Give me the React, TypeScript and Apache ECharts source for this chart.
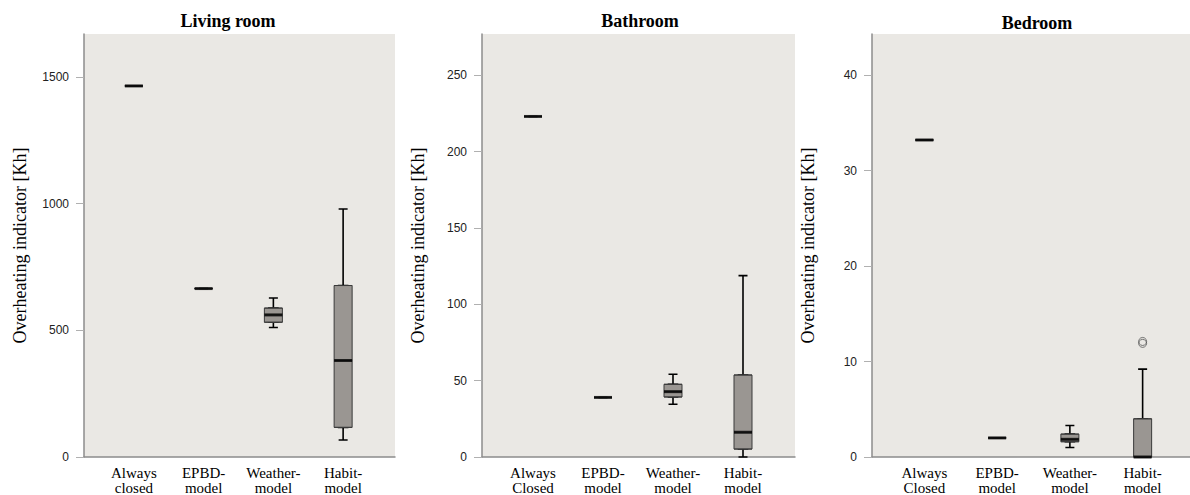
import React, { useEffect, useRef } from 'react';
import * as echarts from 'echarts';

const panelTitles = ['Living room', 'Bathroom', 'Bedroom'];
const livingCategories = ['Always\nclosed', 'EPBD-\nmodel', 'Weather-\nmodel', 'Habit-\nmodel'];
const bathroomCategories = ['Always\nClosed', 'EPBD-\nmodel', 'Weather-\nmodel', 'Habit-\nmodel'];
const bedroomCategories = ['Always\nClosed', 'EPBD-\nmodel', 'Weather-\nmodel', 'Habit-\nmodel'];

// [min, Q1, median, Q3, max]
const livingBoxes = [
  [1465, 1465, 1465, 1465, 1465],
  [665, 665, 665, 665, 665],
  [511, 532, 561, 588, 628],
  [67, 117, 381, 677, 979],
];
const bathroomBoxes = [
  [223, 223, 223, 223, 223],
  [39, 39, 39, 39, 39],
  [34.5, 39.3, 42.8, 47.6, 54.2],
  [0, 5.2, 16.2, 53.7, 118.8],
];
const bedroomBoxes = [
  [33.2, 33.2, 33.2, 33.2, 33.2],
  [2.0, 2.0, 2.0, 2.0, 2.0],
  [1.0, 1.6, 1.85, 2.4, 3.3],
  [0, 0, 0, 4.0, 9.2],
];
const livingOutliers: number[][] = [];
const bathroomOutliers: number[][] = [];
const bedroomOutliers = [
  [3, 11.9],
  [3, 12.1],
];

const livingTicks = [0, 500, 1000, 1500];
const bathroomTicks = [0, 50, 100, 150, 200, 250];
const bedroomTicks = [0, 10, 20, 30, 40];
const yMaxes = [1670, 277, 44.3];
const yAxisName = 'Overheating indicator [Kh]';

const panelCategories = [livingCategories, bathroomCategories, bedroomCategories];
const panelBoxes = [livingBoxes, bathroomBoxes, bedroomBoxes];
const panelOutliers = [livingOutliers, bathroomOutliers, bedroomOutliers];
const panelTicks = [livingTicks, bathroomTicks, bedroomTicks];

const layouts = [
  { outerLeft: 84, outerWidth: 311, innerLeft: 99, innerWidth: 279, titleX: 228, titleY: 21 },
  { outerLeft: 482, outerWidth: 313, innerLeft: 498, innerWidth: 280, titleX: 640, titleY: 21 },
  { outerLeft: 872, outerWidth: 318, innerLeft: 888, innerWidth: 291, titleX: 1037, titleY: 23 },
];
const TOP = 34;
const HEIGHT = 423;

const BG = '#EAE8E4';
const BOX_FILL = '#9a9692';
const AXIS_COLOR = '#8c8c8c';
const SERIF = "'Liberation Serif', 'Times New Roman', serif";

function buildOption() {
  const grid: any[] = [];
  const xAxis: any[] = [];
  const yAxis: any[] = [];
  const series: any[] = [];
  const graphic: any[] = [];

  layouts.forEach((L, i) => {
    const gi = 3 * i;
    const yMax = yMaxes[i];
    grid.push({
      left: L.outerLeft, top: TOP, width: L.outerWidth, height: HEIGHT,
      show: true, backgroundColor: BG, borderWidth: 0, containLabel: false, outerBoundsMode: 'none',
    });
    grid.push({
      left: L.innerLeft, top: TOP, width: L.innerWidth, height: HEIGHT,
      show: false, containLabel: false, outerBoundsMode: 'none',
    });
    grid.push({
      left: L.innerLeft, top: TOP, width: L.innerWidth, height: HEIGHT,
      show: false, containLabel: false, outerBoundsMode: 'none',
    });

    xAxis.push({
      type: 'value', gridIndex: gi, min: 0, max: 1,
      axisLine: { show: true, onZero: false, lineStyle: { color: AXIS_COLOR, width: 1.5 } },
      axisTick: { show: false }, axisLabel: { show: false }, splitLine: { show: false },
    });
    xAxis.push({
      type: 'category', gridIndex: gi + 1, data: panelCategories[i],
      axisLine: { show: false }, axisTick: { show: false }, splitLine: { show: false },
      axisLabel: {
        show: true, interval: 0, margin: 8, color: '#000',
        fontFamily: SERIF, fontSize: 15, lineHeight: 15,
      },
    });
    xAxis.push({
      type: 'category', gridIndex: gi + 2, data: panelCategories[i], show: false,
    });

    yAxis.push({
      type: 'value', gridIndex: gi, min: 0, max: yMax,
      axisLine: { show: true, onZero: false, lineStyle: { color: AXIS_COLOR, width: 1.5 } },
      axisTick: { show: true, length: 8, lineStyle: { color: '#b0b0b0', width: 1 }, customValues: panelTicks[i] },
      axisLabel: {
        show: true, margin: 15, color: '#222', fontFamily: 'Liberation Sans', fontSize: 12,
        customValues: panelTicks[i],
        formatter: (v: number) => String(v),
      },
      splitLine: { show: false },
      name: yAxisName, nameLocation: 'middle', nameGap: 55,
      nameTextStyle: { fontFamily: SERIF, fontSize: 18, color: '#000' },
    });
    yAxis.push({ type: 'value', gridIndex: gi + 1, min: 0, max: yMax, show: false, splitLine: { show: false } });
    yAxis.push({ type: 'value', gridIndex: gi + 2, min: 0, max: yMax, show: false, splitLine: { show: false } });

    const boxes = panelBoxes[i];
    // whiskers with short caps
    series.push({
      type: 'boxplot', xAxisIndex: gi + 1, yAxisIndex: gi + 1,
      boxWidth: [9, 9], data: boxes, silent: true,
      itemStyle: { color: BOX_FILL, borderColor: '#000', borderWidth: 1.6 },
      emphasis: { disabled: true },
      z: 2,
    });
    // box body
    series.push({
      type: 'boxplot', xAxisIndex: gi + 2, yAxisIndex: gi + 2,
      boxWidth: [18, 18], silent: true,
      data: boxes.map((b) => [b[1], b[1], b[2], b[3], b[3]]),
      itemStyle: { color: BOX_FILL, borderColor: '#3a3a3a', borderWidth: 1 },
      emphasis: { disabled: true },
      z: 3,
    });
    // median
    series.push({
      type: 'scatter', xAxisIndex: gi + 2, yAxisIndex: gi + 2, silent: true,
      symbol: 'rect', symbolSize: [18, 3],
      data: boxes.map((b, k) => [k, b[2]]),
      itemStyle: { color: '#000' },
      emphasis: { disabled: true },
      z: 4,
    });
    if (panelOutliers[i].length) {
      series.push({
        type: 'scatter', xAxisIndex: gi + 2, yAxisIndex: gi + 2, silent: true,
        symbol: 'circle', symbolSize: 8,
        data: panelOutliers[i],
        itemStyle: { color: 'rgba(0,0,0,0)', borderColor: '#555', borderWidth: 1 },
        emphasis: { disabled: true },
        z: 5,
      });
    }

    graphic.push({
      type: 'text', x: L.titleX, y: L.titleY,
      style: {
        text: panelTitles[i], align: 'center', verticalAlign: 'middle',
        fontFamily: SERIF, fontWeight: 'bold', fontSize: 18, fill: '#000',
      },
    });
  });

  return {
    animation: false,
    backgroundColor: '#ffffff',
    grid, xAxis, yAxis, series, graphic,
  };
}

export default function App() {
  const ref = useRef<HTMLDivElement>(null);
  useEffect(() => {
    if (!ref.current) return;
    const chart = echarts.init(ref.current, undefined, { renderer: 'svg' });
    chart.setOption(buildOption() as any);
    return () => chart.dispose();
  }, []);
  return (
    <div
      ref={ref}
      style={{ position: 'absolute', left: 0, top: 0, width: 1190, height: 495 }}
    />
  );
}
